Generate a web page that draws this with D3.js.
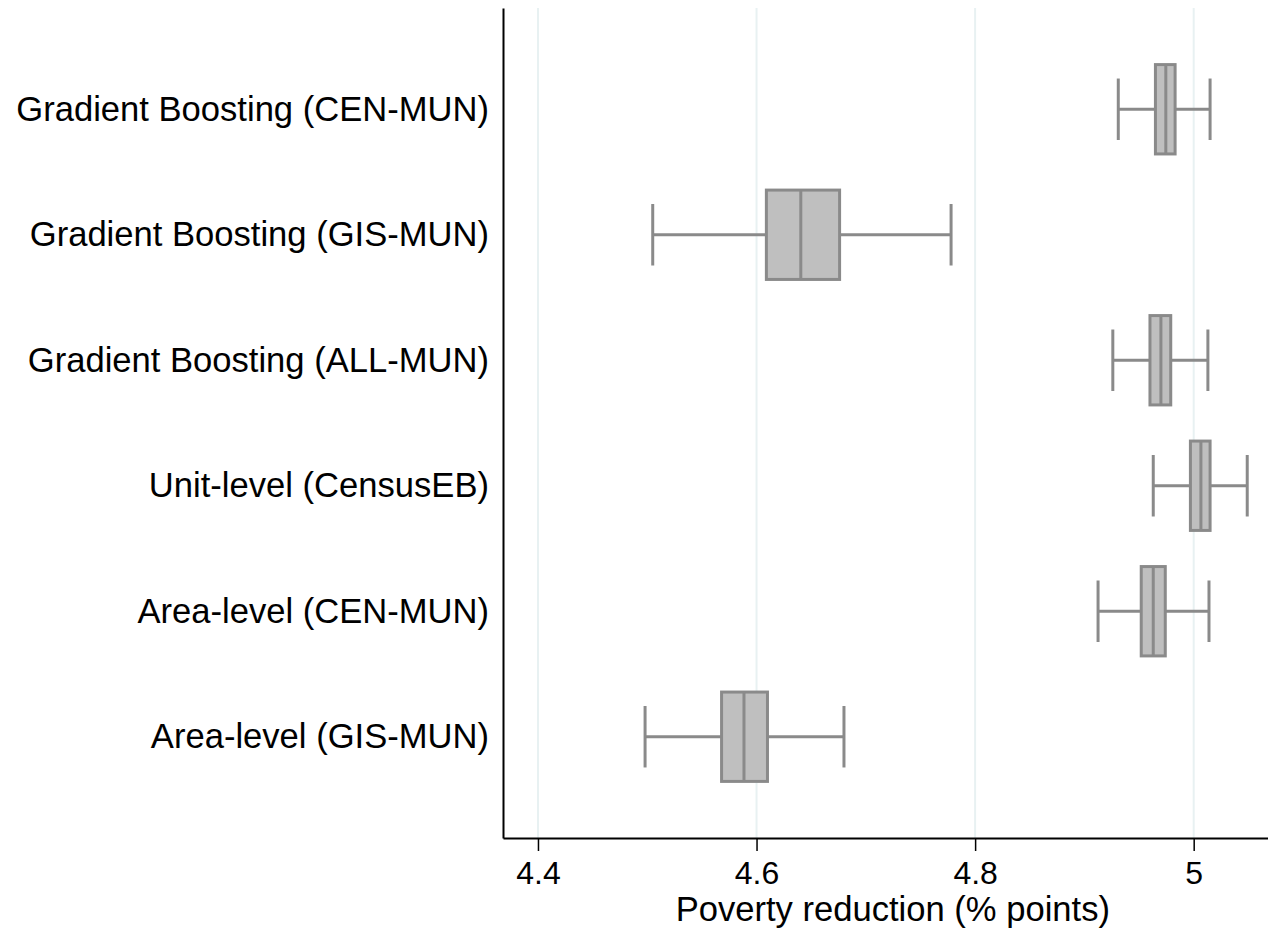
<!DOCTYPE html>
<html>
<head>
<meta charset="utf-8">
<script src="https://cdn.jsdelivr.net/npm/d3@7"></script>
<style>
  body { margin: 0; background: #fff; }
  svg { display: block; font-family: "Liberation Sans", Arial, sans-serif; }
</style>
</head>
<body>
<svg id="chart" width="1268" height="931"></svg>
<script>
const categories = [
  'Gradient Boosting (CEN-MUN)',
  'Gradient Boosting (GIS-MUN)',
  'Gradient Boosting (ALL-MUN)',
  'Unit-level (CensusEB)',
  'Area-level (CEN-MUN)',
  'Area-level (GIS-MUN)'
];
const whiskerLow  = [4.931, 4.505, 4.926, 4.963, 4.9125, 4.498];
const q1          = [4.965, 4.609, 4.960, 4.997, 4.952, 4.568];
const median      = [4.9745, 4.6405, 4.970, 5.0066, 4.963, 4.5885];
const q3          = [4.983, 4.676, 4.979, 5.015, 4.974, 4.610];
const whiskerHigh = [5.015, 4.778, 5.013, 5.049, 5.014, 4.680];
const xTicks = [4.4, 4.6, 4.8, 5];
const xTitle = 'Poverty reduction (% points)';

const data = categories.map((c, i) => ({
  cat: c, lo: whiskerLow[i], q1: q1[i], med: median[i], q3: q3[i], hi: whiskerHigh[i]
}));

const svg = d3.select('#chart');
const margin = { top: 8, right: 0, bottom: 93, left: 503 };
const width = +svg.attr('width');
const height = +svg.attr('height');

const x = d3.scaleLinear()
  .domain([4.368, 5.068])
  .range([margin.left, width - margin.right]);

const y = d3.scalePoint()
  .domain(categories)
  .range([margin.top, height - margin.bottom])
  .padding(0.807);

const step = y.step();
const boxH = step * 0.712;
const capH = step * 0.49;
const gray = '#8a8a8a';

// grid lines
svg.append('g')
  .selectAll('line')
  .data(xTicks)
  .join('line')
  .attr('x1', d => x(d)).attr('x2', d => x(d))
  .attr('y1', margin.top).attr('y2', height - margin.bottom)
  .attr('stroke', '#e8f1f2')
  .attr('stroke-width', 2);

// X axis
const xAxis = svg.append('g')
  .attr('transform', `translate(0, ${height - margin.bottom})`)
  .call(d3.axisBottom(x)
    .tickValues(xTicks)
    .tickFormat(d => String(+d.toFixed(1)))
    .tickSize(13)
    .tickSizeOuter(0)
    .tickPadding(10));
xAxis.select('.domain').attr('stroke', '#000').attr('stroke-width', 2);
xAxis.selectAll('.tick line').attr('stroke', '#000').attr('stroke-width', 1.5);
xAxis.selectAll('.tick text')
  .attr('fill', '#000')
  .attr('font-size', 32)
  .attr('font-family', '"Liberation Sans", Arial, sans-serif');

// Y axis
const yAxis = svg.append('g')
  .attr('transform', `translate(${margin.left}, 0)`)
  .call(d3.axisLeft(y).tickSize(0).tickSizeOuter(0).tickPadding(14));
yAxis.select('.domain').attr('stroke', '#000').attr('stroke-width', 2);
yAxis.selectAll('.tick text')
  .attr('fill', '#000')
  .attr('font-size', 34.6)
  .attr('font-family', '"Liberation Sans", Arial, sans-serif');

// axis title
svg.append('text')
  .attr('x', (x(4.4) + x(5)) / 2 + 27)
  .attr('y', height - 10)
  .attr('text-anchor', 'middle')
  .attr('font-size', 34.6)
  .text(xTitle);

// boxes
const g = svg.append('g')
  .selectAll('g')
  .data(data)
  .join('g')
  .attr('transform', d => `translate(0, ${y(d.cat)})`);

g.append('line')
  .attr('x1', d => x(d.lo)).attr('x2', d => x(d.q1))
  .attr('stroke', gray).attr('stroke-width', 3);
g.append('line')
  .attr('x1', d => x(d.q3)).attr('x2', d => x(d.hi))
  .attr('stroke', gray).attr('stroke-width', 3);
g.append('line')
  .attr('x1', d => x(d.lo)).attr('x2', d => x(d.lo))
  .attr('y1', -capH / 2).attr('y2', capH / 2)
  .attr('stroke', gray).attr('stroke-width', 3);
g.append('line')
  .attr('x1', d => x(d.hi)).attr('x2', d => x(d.hi))
  .attr('y1', -capH / 2).attr('y2', capH / 2)
  .attr('stroke', gray).attr('stroke-width', 3);
g.append('rect')
  .attr('x', d => x(d.q1))
  .attr('width', d => x(d.q3) - x(d.q1))
  .attr('y', -boxH / 2)
  .attr('height', boxH)
  .attr('fill', '#bfbfbf')
  .attr('stroke', gray)
  .attr('stroke-width', 3);
g.append('line')
  .attr('x1', d => x(d.med)).attr('x2', d => x(d.med))
  .attr('y1', -boxH / 2).attr('y2', boxH / 2)
  .attr('stroke', gray).attr('stroke-width', 3);
</script>
</body>
</html>
